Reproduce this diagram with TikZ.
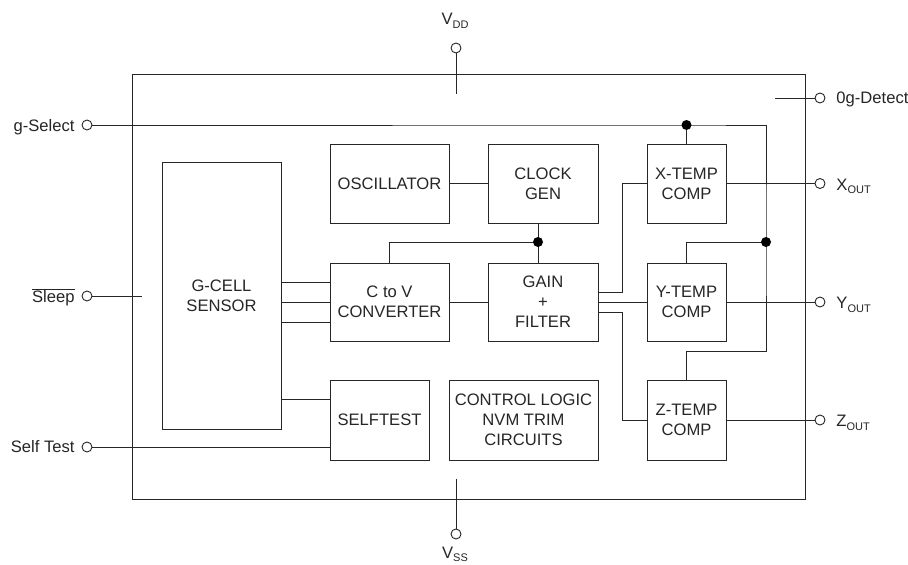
\documentclass[tikz,border=0pt]{standalone}
\usepackage{fontspec}
\setmainfont{Liberation Sans}
\newcommand\mysub[1]{\raisebox{-0.45ex}{\fontsize{11}{12}\selectfont #1}}
\begin{document}
\begin{tikzpicture}[x=1pt,y=-1pt,line width=0.9pt,draw=black!85,
  blk/.style={draw,rectangle,inner sep=0pt,align=center,text=black!85,
    font=\fontsize{16.6}{20}\selectfont},
  port/.style={draw,circle,fill=white,inner sep=0pt,minimum size=10pt},
  lbl/.style={inner sep=0pt,text=black!85,font=\fontsize{16.6}{20}\selectfont}]
\useasboundingbox (0,0) rectangle (908,565);
% chip outline
\node[draw,rectangle,inner sep=0pt,minimum width=673pt,minimum height=425pt] (chip) at (468.5,286.5) {};
% blocks
\node[blk,minimum width=119pt,minimum height=267pt] (gcell) at (221.5,295.5) {G-CELL\\SENSOR};
\node[blk,minimum width=119pt,minimum height=79pt] (osc) at (389.5,183.5) {OSCILLATOR};
\node[blk,minimum width=110pt,minimum height=79pt] (clk) at (543,183.5) {CLOCK\\GEN};
\node[blk,minimum width=119pt,minimum height=78pt] (ctov) at (389.5,302) {C to V\\CONVERTER};
\node[blk,minimum width=110pt,minimum height=78pt] (gain) at (543,302) {GAIN\\+\\FILTER};
\node[blk,minimum width=79pt,minimum height=79pt] (xt) at (686.5,183.5) {X-TEMP\\COMP};
\node[blk,minimum width=79pt,minimum height=78pt] (yt) at (686.5,302) {Y-TEMP\\COMP};
\node[blk,minimum width=79pt,minimum height=80pt] (zt) at (686.5,420) {Z-TEMP\\COMP};
\node[blk,minimum width=99pt,minimum height=80pt] (self) at (379.5,420) {SELFTEST};
\node[blk,minimum width=149pt,minimum height=80pt] (ctrl) at (523.5,420) {CONTROL LOGIC\\NVM TRIM\\CIRCUITS};
% ports
\node[port] (vdd) at (456,48) {};
\node[port] (vss) at (456,534) {};
\node[port] (gsel) at (87,125) {};
\node[port] (slp) at (87,296) {};
\node[port] (stp) at (87,447) {};
\node[port] (ogp) at (820,98) {};
\node[port] (xo) at (820,183.5) {};
\node[port] (yo) at (820,302) {};
\node[port] (zo) at (820,420) {};
% coordinates
\coordinate (j1) at (686.5,125);
\coordinate (gr) at (766,125);
\coordinate (j2) at (766,242);
\coordinate (zr) at (766,351);
\coordinate (j3) at (538,242);
\coordinate (bx) at (622,0);
\coordinate (og) at (775,98);
\coordinate (vddin) at (456,94);
\coordinate (vssin) at (456,479);
\coordinate (slin) at (142,296);
% connectors
\draw (gsel) -- (j1) -- (gr) -- (j2) -- (zr) -| (zt.north);
\draw (j1) -- (xt.north);
\draw (j2) -| (yt.north);
\draw (osc) -- (clk);
\draw (j3 |- clk.south) -- (j3 |- gain.north);
\draw (j3) -| (ctov.north);
\foreach \yy in {282,302,322} \draw (gcell.east |- 0,\yy) -- (ctov.west |- 0,\yy);
\draw (gcell.east |- 0,399) -- (self.west |- 0,399);
\draw (ctov) -- (gain);
\draw (gain.east |- 0,292) -| (bx |- xt.west) -- (xt.west);
\draw (gain) -- (yt);
\draw (gain.east |- 0,312) -| (bx |- zt.west) -- (zt.west);
\draw (xt) -- (xo);
\draw (yt) -- (yo);
\draw (zt) -- (zo);
\draw (og) -- (ogp);
\draw (vdd) -- (vddin);
\draw (vssin) -- (vss);
\draw (slp) -- (slin);
\draw (stp) -- (self.west |- stp);
% junction dots
\fill[black] (j1) circle (5pt);
\fill[black] (j2) circle (5pt);
\fill[black] (j3) circle (5pt);
% labels
\node[lbl,anchor=base east] at (75,131.5) {g-Select};
\node[lbl,anchor=base east] at (75,302.5) {$\overline{\mbox{Sleep}}$};
\node[lbl,anchor=base east] at (75,452) {Self Test};
\node[lbl,anchor=base west] at (836,103) {0g-Detect};
\node[lbl,anchor=base west] at (836,190) {X\mysub{OUT}};
\node[lbl,anchor=base west] at (836,308.5) {Y\mysub{OUT}};
\node[lbl,anchor=base west] at (836,426.5) {Z\mysub{OUT}};
\node[lbl,anchor=base] at (455,24.5) {V\mysub{DD}};
\node[lbl,anchor=base] at (455,558) {V\mysub{SS}};
\end{tikzpicture}
\end{document}
